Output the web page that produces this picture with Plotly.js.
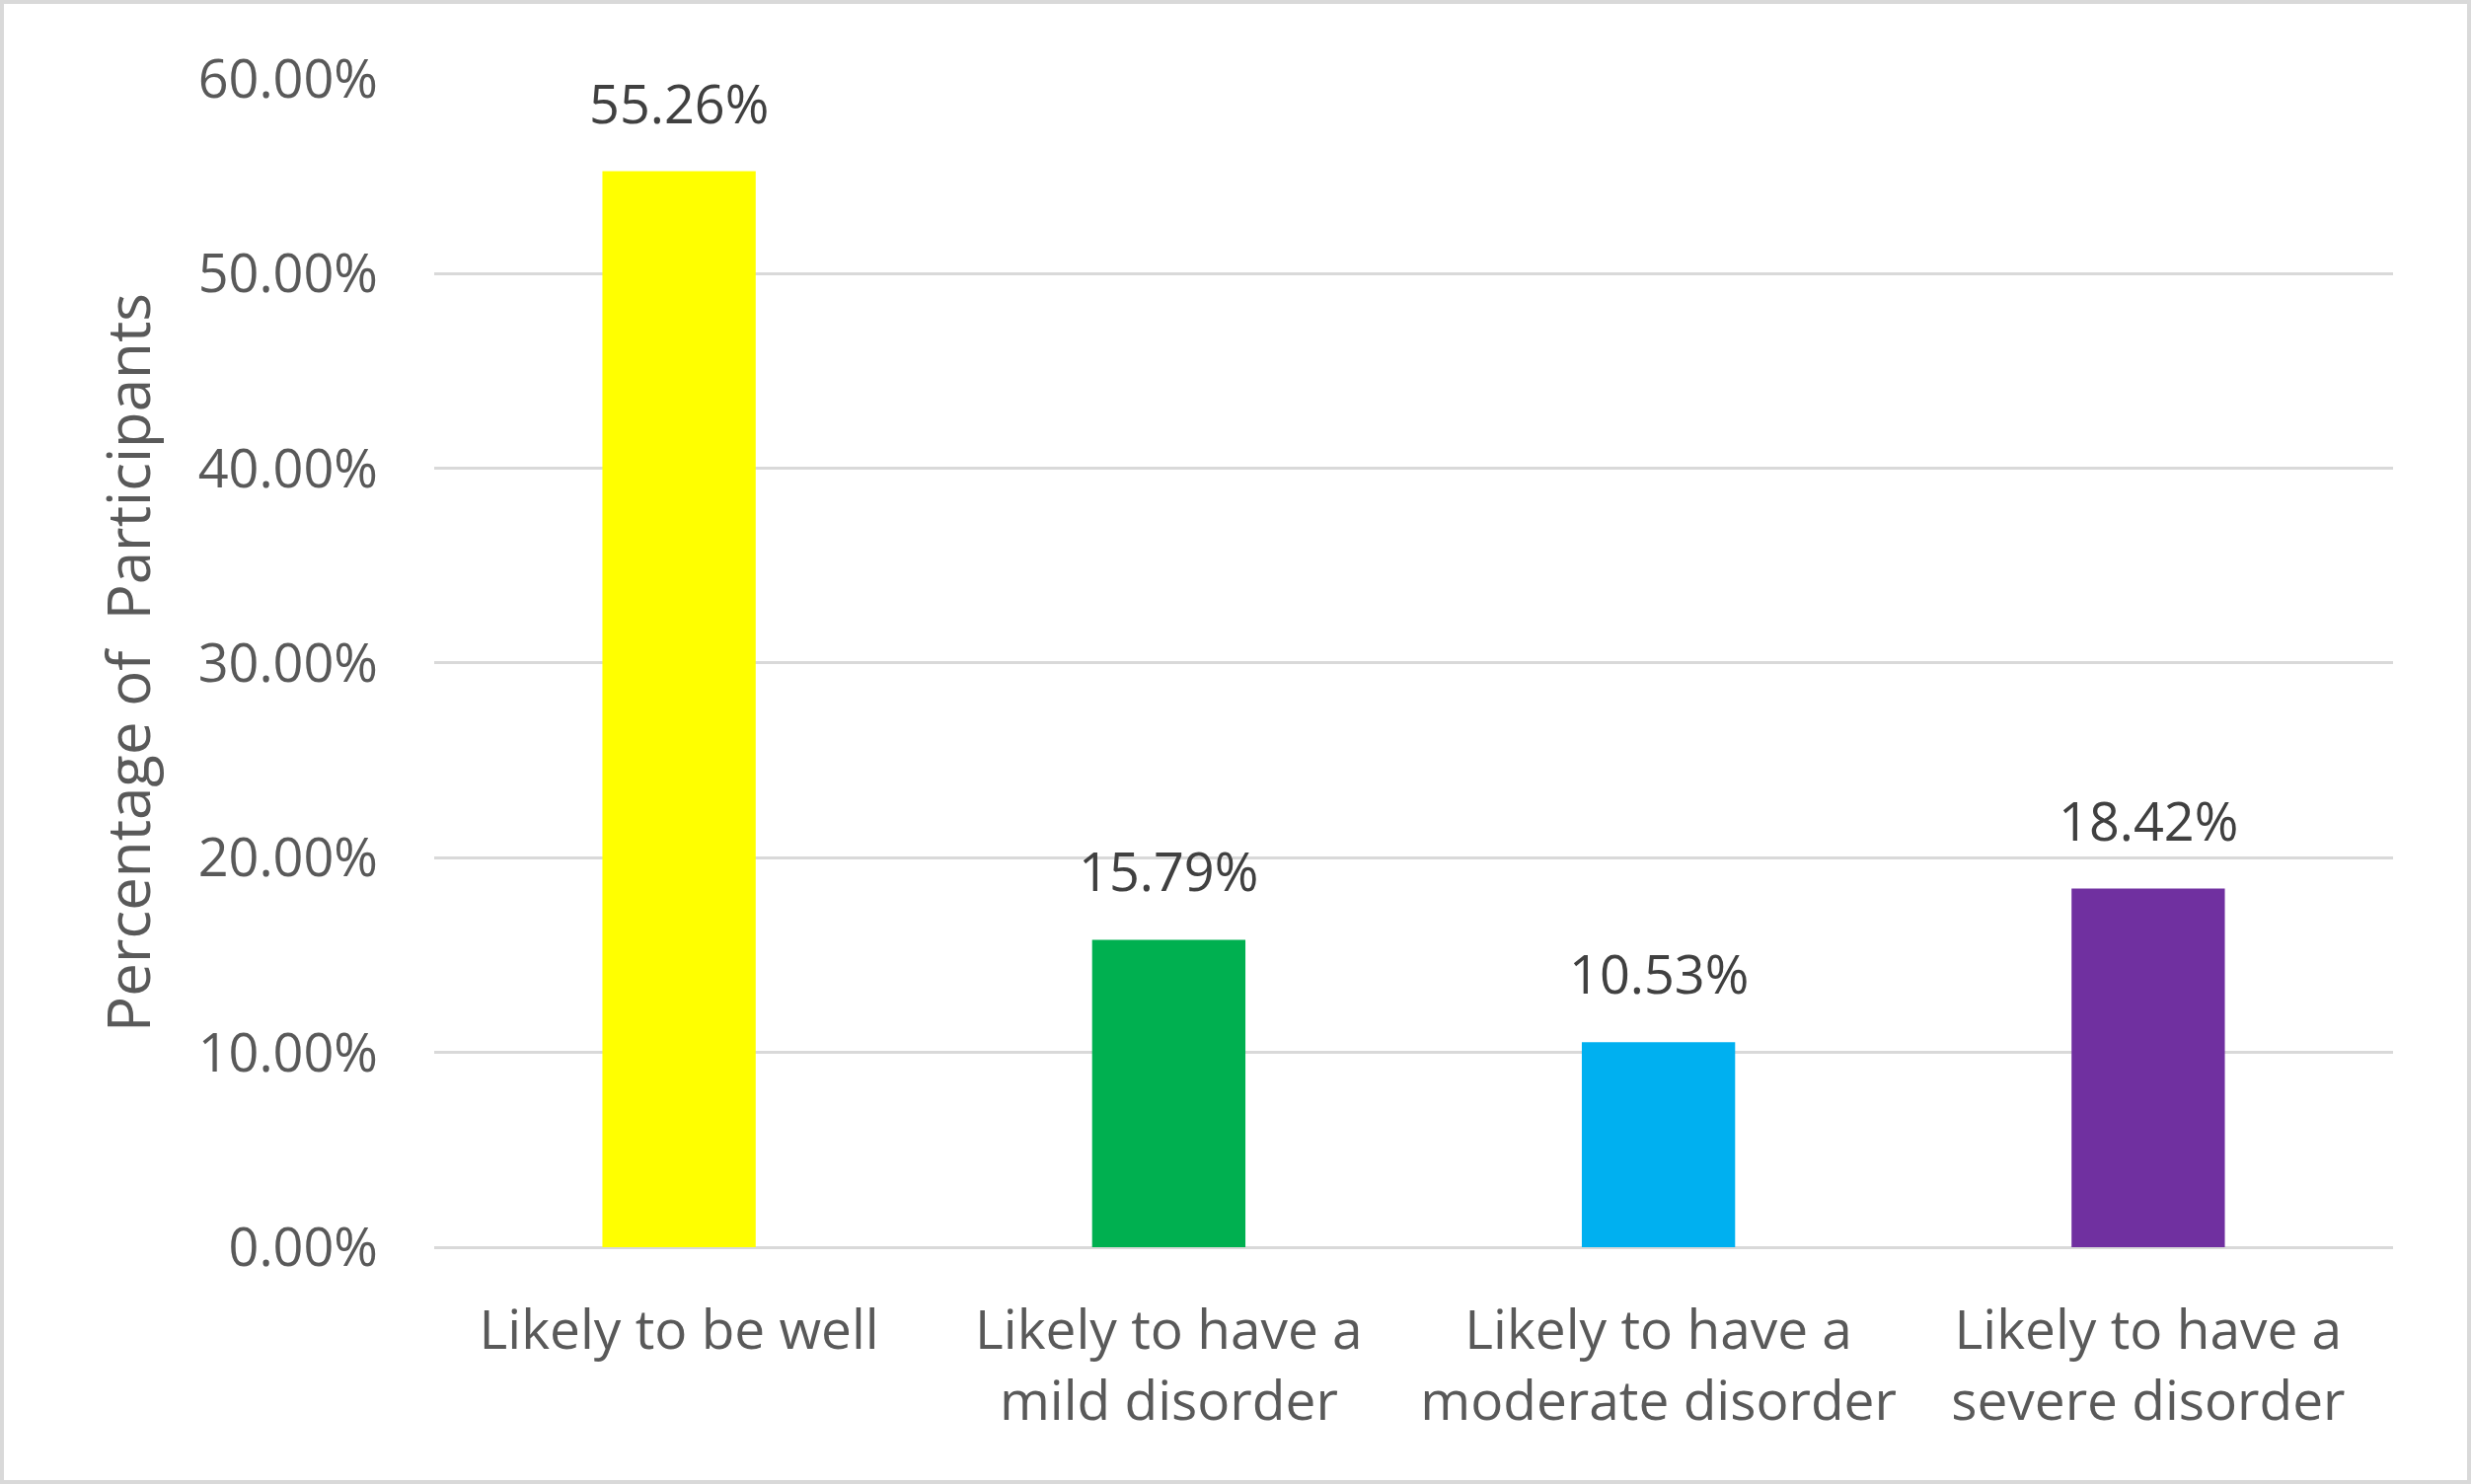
<!DOCTYPE html>
<html>
<head>
<meta charset="utf-8">
<script src="https://cdn.plot.ly/plotly-3.0.1.min.js"></script>
<style>
  html, body { margin: 0; padding: 0; background: #ffffff; }
  #wrap { position: relative; width: 2504px; height: 1504px; }
  #chart { position: absolute; left: 0; top: 0; width: 2504px; height: 1504px; }
  #frame { position: absolute; left: 0; top: 0; width: 2504px; height: 1504px;
           box-sizing: border-box; border: 4px solid #d9d9d9; pointer-events: none; }
</style>
</head>
<body>
<div id="wrap">
  <div id="chart"></div>
  <div id="frame"></div>
</div>
<script>
// ---- data ----
const categories = [
  "Likely to be well",
  "Likely to have a<br>mild disorder",
  "Likely to have a<br>moderate disorder",
  "Likely to have a<br>severe disorder"
];
const values = [0.5526, 0.1579, 0.1053, 0.1842];
const barColors = ["#FFFF00", "#00B050", "#00B0F0", "#7030A0"];
const yTickValues = [0, 0.1, 0.2, 0.3, 0.4, 0.5, 0.6];
const yTitle = "Percentage of  Participants";

const FONT = "'Open Sans', 'Noto Sans', sans-serif";

const trace = {
  type: "bar",
  x: categories,
  y: values,
  marker: { color: barColors },
  hoverinfo: "none",
  cliponaxis: false
};

const annotations = categories.map((c, i) => ({
  x: c,
  y: values[i],
  xref: "x",
  yref: "y",
  text: (values[i] * 100).toFixed(2) + "%",
  showarrow: false,
  yanchor: "bottom",
  xanchor: "center",
  yshift: 31,
  font: { family: FONT, size: 54, color: "#404040" }
}));

const layout = {
  width: 2504,
  height: 1504,
  paper_bgcolor: "#ffffff",
  plot_bgcolor: "#ffffff",
  margin: { l: 440, r: 79, t: 79, b: 240, pad: 0 },
  showlegend: false,
  bargap: 0.687,
  font: { family: FONT, color: "#595959" },
  xaxis: {
    type: "category",
    showgrid: false,
    zeroline: false,
    showline: false,
    ticks: "",
    tickfont: { family: FONT, size: 55, color: "#595959" },
    ticklabelstandoff: 47,
    automargin: false
  },
  yaxis: {
    range: [0, 0.6005],
    tickvals: yTickValues,
    tickformat: ".2%",
    showgrid: true,
    gridcolor: "#d9d9d9",
    gridwidth: 3,
    zeroline: true,
    zerolinecolor: "#d9d9d9",
    zerolinewidth: 3,
    showline: false,
    ticks: "",
    ticklabelstandoff: 56,
    tickfont: { family: FONT, size: 54, color: "#595959" },
    title: { text: yTitle, font: { family: FONT, size: 60, color: "#595959" }, standoff: 28 },
    automargin: false
  },
  annotations: annotations
};

Plotly.newPlot("chart", [trace], layout, { displayModeBar: false, staticPlot: true });
</script>
</body>
</html>
